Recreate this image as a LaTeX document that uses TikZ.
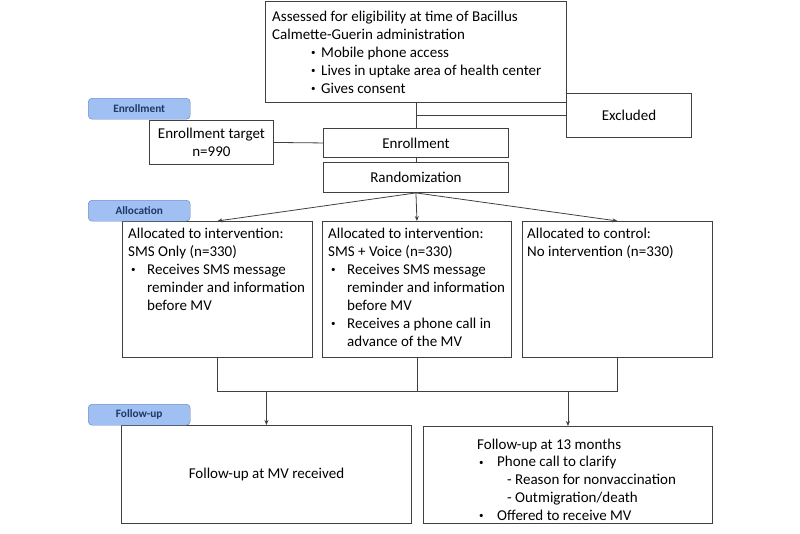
\documentclass[tikz,border=0pt]{standalone}
\usepackage{fontspec}
\setmainfont{Carlito}
\usetikzlibrary{arrows.meta}
\definecolor{lineC}{HTML}{404040}
\definecolor{labFill}{HTML}{A0BFF2}
\definecolor{labDraw}{HTML}{5F7FB5}
\definecolor{labText}{HTML}{1F3864}
\newcommand{\bul}[1]{\makebox[#1][l]{\hspace*{1pt}\raisebox{1.6pt}{\fontsize{9}{9}\selectfont\textbullet}}}
\begin{document}
\begin{tikzpicture}[x=1pt,y=-1pt,
 box/.style={draw=lineC, line width=0.9pt, anchor=north west, inner sep=0pt},
 txt/.style={anchor=base west, inner sep=0pt, align=left, font=\fontsize{15}{18}\selectfont},
 ctxt/.style={font=\fontsize{15}{18.5}\selectfont, align=center},
 phase/.style={draw=labDraw, fill=labFill, rounded corners=4pt, anchor=north west, inner sep=0pt, minimum width=102pt, minimum height=21pt, font=\fontsize{11.3}{12}\selectfont\bfseries, text=labText},
 conn/.style={draw=lineC, line width=0.8pt},
 arr/.style={conn, -{Stealth[length=5pt,width=4pt]}}]
\useasboundingbox (0,0) rectangle (800,533);

% boxes (text nodes anchored at the baseline of their last line)
\node[box, minimum width=301pt, minimum height=101pt] (top) at (265,1) {};
\node[txt] (toptxt) at (272,93) {Assessed for eligibility at time of Bacillus\\
Calmette-Guerin administration\\
\hspace*{38pt}\bul{11pt}Mobile phone access\\
\hspace*{38pt}\bul{11pt}Lives in uptake area of health center\\
\hspace*{38pt}\bul{11pt}Gives consent};

\node[box, ctxt, minimum width=125pt, minimum height=44pt] (excl) at (566,93) {Excluded};
\node[box, ctxt, minimum width=124pt, minimum height=44pt] (target) at (149,120) {Enrollment target\\n=990};
\node[box, ctxt, minimum width=185pt, minimum height=29pt] (enroll) at (323,128) {Enrollment};
\node[box, ctxt, minimum width=185pt, minimum height=30pt] (rand) at (323,162) {Randomization};

\node[box, minimum width=190pt, minimum height=136pt] (a1) at (122,221) {};
\node[txt] (a1txt) at (128,310) {Allocated to intervention:\\
SMS Only (n=330)\\
\hspace*{2pt}\bul{17pt}Receives SMS message\\
\hspace*{19pt}reminder and information\\
\hspace*{19pt}before MV};

\node[box, minimum width=189pt, minimum height=136pt] (a2) at (322,221) {};
\node[txt] (a2txt) at (328,346) {Allocated to intervention:\\
SMS + Voice (n=330)\\
\hspace*{2pt}\bul{17pt}Receives SMS message\\
\hspace*{19pt}reminder and information\\
\hspace*{19pt}before MV\\
\hspace*{2pt}\bul{17pt}Receives a phone call in\\
\hspace*{19pt}advance of the MV};

\node[box, minimum width=190pt, minimum height=136pt] (a3) at (522,221) {};
\node[txt] (a3txt) at (527,256) {Allocated to control:\\
No intervention (n=330)};

\node[box, ctxt, minimum width=290pt, minimum height=98pt] (f1) at (121,425) {Follow-up at MV received};

\node[box, minimum width=289pt, minimum height=97pt] (f2) at (423,426) {};
\node[txt, font=\fontsize{15}{17.7}\selectfont] (f2txt) at (477,520) {Follow-up at 13 months\\
\hspace*{1pt}\bul{19pt}Phone call to clarify\\
\hspace*{30pt}- Reason for nonvaccination\\
\hspace*{30pt}- Outmigration/death\\
\hspace*{1pt}\bul{19pt}Offered to receive MV};

% phase labels
\node[phase] (lenr) at (88,98) {Enrollment};
\node[phase] (lall) at (88,200) {Allocation};
\node[phase] (lfu) at (88,404) {Follow-up};

% connectors
\draw[conn] (top.south) -- (enroll.north);
\draw[conn] (excl.west) -- (excl.west -| enroll.north);
\draw[conn] (target.east) -- (enroll.west);
\draw[conn] (enroll.south) -- (rand.north);
\draw[arr] (rand.south) -- (a1.north);
\draw[arr] (rand.south) -- (a2.north);
\draw[arr] (rand.south) -- (a3.north);
\coordinate (mrg) at (416,391);
\draw[conn] (a1.south) -- (a1.south |- mrg) -- (a3.south |- mrg) -- (a3.south);
\draw[conn] (a2.south) -- (a2.south |- mrg);
\draw[arr] (f1.north |- mrg) -- (f1.north);
\draw[arr] (f2.north |- mrg) -- (f2.north);
\end{tikzpicture}
\end{document}
